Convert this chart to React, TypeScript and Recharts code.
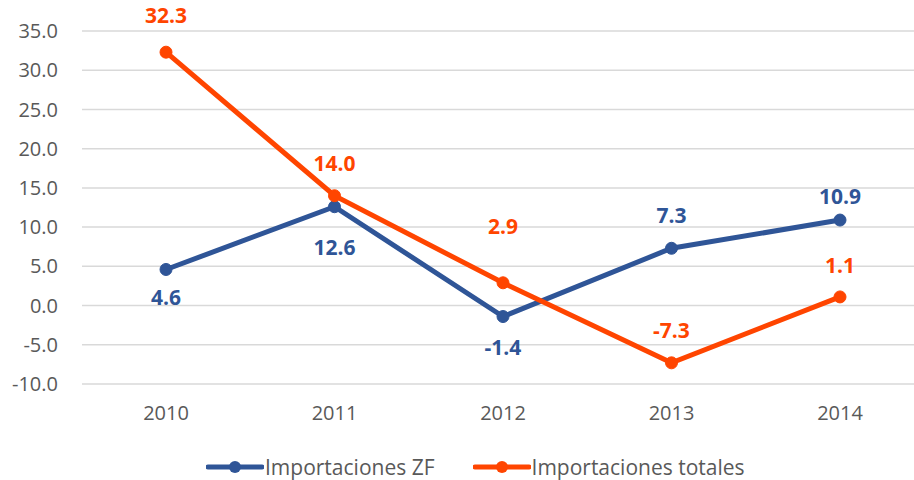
import { LineChart, Line, XAxis, YAxis, CartesianGrid, LabelList } from 'recharts';

const years = ['2010', '2011', '2012', '2013', '2014'];
const importacionesZF = [4.6, 12.6, -1.4, 7.3, 10.9];
const importacionesTotales = [32.3, 14.0, 2.9, -7.3, 1.1];
const yTicks = [-10, -5, 0, 5, 10, 15, 20, 25, 30, 35];

const BLUE = '#2F5597';
const ORANGE = '#FF4500';
const FONT = '"Open Sans", sans-serif';

// vertical shift of each value label from its point (px)
const zfLabelShift = [28, 40, 30, -33, -24];
const totLabelShift = [-37, -33, -57, -33, -32];

const data = years.map((year, i) => ({
  year,
  zf: importacionesZF[i],
  tot: importacionesTotales[i],
}));

const makeLabel = (color: string, shifts: number[]) => (props: any) => {
  const { x, y, value, index } = props;
  return (
    <text
      x={x}
      y={y + shifts[index]}
      fill={color}
      textAnchor="middle"
      dominantBaseline="central"
      fontSize={21}
      fontWeight="bold"
      fontFamily={FONT}
    >
      {Number(value).toFixed(1)}
    </text>
  );
};

const LegendItem = ({ color, label }: { color: string; label: string }) => (
  <div style={{ display: 'flex', alignItems: 'center' }}>
    <svg width={58} height={14}>
      <line x1={2} y1={7} x2={56} y2={7} stroke={color} strokeWidth={5} strokeLinecap="round" />
      <circle cx={29} cy={7} r={6} fill={color} />
    </svg>
    <span
      style={{ color: '#595959', fontSize: 21, lineHeight: '22px', fontFamily: FONT, marginLeft: 1 }}
    >
      {label}
    </span>
  </div>
);

export default function App() {
  return (
    <div
      style={{
        position: 'absolute',
        left: 0,
        top: 0,
        width: 914,
        height: 480,
        overflow: 'hidden',
        background: '#fff',
      }}
    >
      <LineChart
        width={930}
        height={480}
        data={data}
        margin={{ top: 31, right: 6, left: 0, bottom: 56 }}
      >
        <CartesianGrid vertical={false} stroke="#d9d9d9" strokeWidth={1.5} />
        <XAxis
          dataKey="year"
          axisLine={false}
          tickLine={false}
          height={40}
          tickMargin={16}
          padding={{ left: 84, right: 84 }}
          tick={{ fill: '#595959', fontSize: 20, fontFamily: FONT }}
        />
        <YAxis
          width={82}
          domain={[-10, 35]}
          ticks={yTicks}
          interval={0}
          axisLine={false}
          tickLine={false}
          tickMargin={18}
          tickFormatter={(v: number) => v.toFixed(1)}
          tick={{ fill: '#595959', fontSize: 20, fontFamily: FONT }}
        />
        <Line
          dataKey="zf"
          name="Importaciones ZF"
          stroke={BLUE}
          strokeWidth={5}
          dot={{ r: 6, fill: BLUE, stroke: BLUE, strokeWidth: 1 }}
          isAnimationActive={false}
        >
          <LabelList dataKey="zf" content={makeLabel(BLUE, zfLabelShift)} />
        </Line>
        <Line
          dataKey="tot"
          name="Importaciones totales"
          stroke={ORANGE}
          strokeWidth={5}
          dot={{ r: 6, fill: ORANGE, stroke: ORANGE, strokeWidth: 1 }}
          isAnimationActive={false}
        >
          <LabelList dataKey="tot" content={makeLabel(ORANGE, totLabelShift)} />
        </Line>
      </LineChart>
      <div
        style={{
          position: 'absolute',
          top: 456,
          left: 206,
          display: 'flex',
          gap: 38,
        }}
      >
        <LegendItem color={BLUE} label="Importaciones ZF" />
        <LegendItem color={ORANGE} label="Importaciones totales" />
      </div>
    </div>
  );
}
